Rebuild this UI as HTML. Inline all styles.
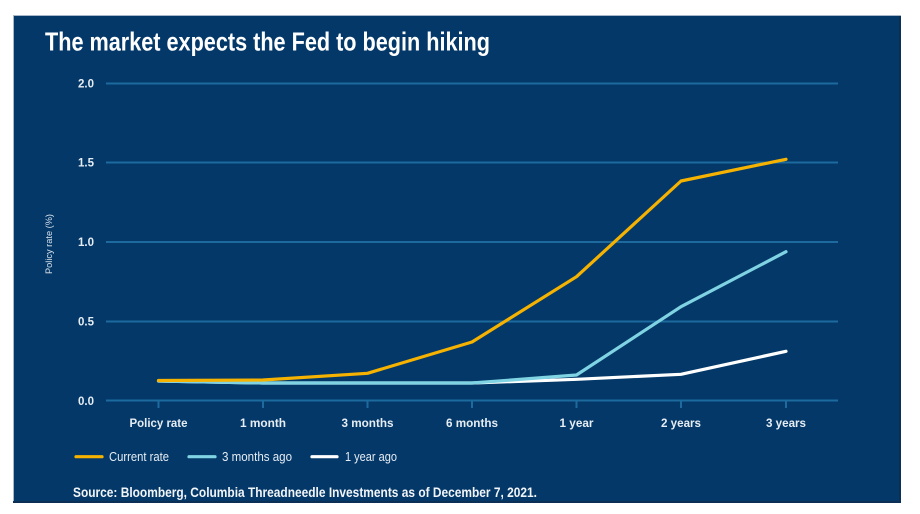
<!DOCTYPE html>
<html><head><meta charset="utf-8"><style>
html,body{margin:0;padding:0;background:#fff;}
svg{display:block;}
</style></head><body>
<svg width="920" height="514" viewBox="0 0 920 514" xmlns="http://www.w3.org/2000/svg" font-family="'Liberation Sans Narrow','Liberation Sans',sans-serif">
<rect x="0" y="0" width="920" height="514" fill="#ffffff"/>
<rect x="13" y="15" width="888" height="488" fill="#a9b8c8"/>
<rect x="14" y="16" width="886" height="486" fill="#043868"/>
<rect x="899" y="16" width="2" height="487" fill="#0b2f55"/>
<rect x="13" y="501" width="888" height="2" fill="#0b2f55"/>
<text x="45" y="50.5" font-size="26" fill="#ffffff" font-weight="bold" textLength="445" lengthAdjust="spacingAndGlyphs">The market expects the Fed to begin hiking</text>
<g stroke="#1d6a9f" stroke-width="2">
<line x1="106" y1="83.5" x2="838" y2="83.5"/>
<line x1="106" y1="162.5" x2="838" y2="162.5"/>
<line x1="106" y1="242" x2="838" y2="242"/>
<line x1="106" y1="321.5" x2="838" y2="321.5"/>
<line x1="106" y1="400.5" x2="838" y2="400.5"/>
<line x1="158.5" y1="400" x2="158.5" y2="408"/>
<line x1="263" y1="400" x2="263" y2="408"/>
<line x1="367.5" y1="400" x2="367.5" y2="408"/>
<line x1="472" y1="400" x2="472" y2="408"/>
<line x1="576.5" y1="400" x2="576.5" y2="408"/>
<line x1="681" y1="400" x2="681" y2="408"/>
<line x1="786" y1="400" x2="786" y2="408"/>
</g>
<g fill="#e6edf4" font-size="11.5" font-weight="bold" font-family="'Liberation Sans',sans-serif" text-anchor="end">
<text x="94" y="87.5">2.0</text>
<text x="94" y="166.5">1.5</text>
<text x="94" y="246">1.0</text>
<text x="94" y="325.5">0.5</text>
<text x="94" y="405">0.0</text>
</g>
<text transform="translate(52,244) rotate(-90)" fill="#d8e2ec" font-size="9" text-anchor="middle" textLength="60" lengthAdjust="spacingAndGlyphs">Policy rate (%)</text>
<g fill="#e6edf4" font-size="12" font-weight="bold" text-anchor="middle">
<text x="158.5" y="427" textLength="58" lengthAdjust="spacingAndGlyphs">Policy rate</text>
<text x="263" y="427" textLength="46" lengthAdjust="spacingAndGlyphs">1 month</text>
<text x="367.5" y="427" textLength="52" lengthAdjust="spacingAndGlyphs">3 months</text>
<text x="472" y="427" textLength="52" lengthAdjust="spacingAndGlyphs">6 months</text>
<text x="576.5" y="427" textLength="34" lengthAdjust="spacingAndGlyphs">1 year</text>
<text x="681" y="427" textLength="40" lengthAdjust="spacingAndGlyphs">2 years</text>
<text x="786" y="427" textLength="40" lengthAdjust="spacingAndGlyphs">3 years</text>
</g>
<g fill="none" stroke-width="3.2" stroke-linejoin="round" stroke-linecap="round">
<polyline stroke="#ffffff" points="158.5,381 263,383 367.5,383 472,383 576.5,379.3 681,374.3 786,351.3"/>
<polyline stroke="#7fd3e3" points="158.5,381 263,383 367.5,383 472,383 576.5,375 681,306.7 786,251.7"/>
<polyline stroke="#f5b200" points="158.5,380.5 263,380 367.5,373.3 472,342 576.5,276.7 681,181 786,159.3"/>
</g>
<g stroke-width="3.2" stroke-linecap="round">
<line x1="76" y1="456.7" x2="102" y2="456.7" stroke="#f5b200"/>
<line x1="189" y1="456.7" x2="215" y2="456.7" stroke="#7fd3e3"/>
<line x1="312" y1="456.7" x2="337" y2="456.7" stroke="#ffffff"/>
</g>
<g fill="#e6edf4" font-size="13">
<text x="109" y="461" textLength="60" lengthAdjust="spacingAndGlyphs">Current rate</text>
<text x="222" y="461" textLength="70" lengthAdjust="spacingAndGlyphs">3 months ago</text>
<text x="345" y="461" textLength="52" lengthAdjust="spacingAndGlyphs">1 year ago</text>
</g>
<text x="73" y="497" fill="#f2f5f8" font-size="13.5" font-weight="bold" textLength="464" lengthAdjust="spacingAndGlyphs">Source: Bloomberg, Columbia Threadneedle Investments as of December 7, 2021.</text>
</svg>
</body></html>
